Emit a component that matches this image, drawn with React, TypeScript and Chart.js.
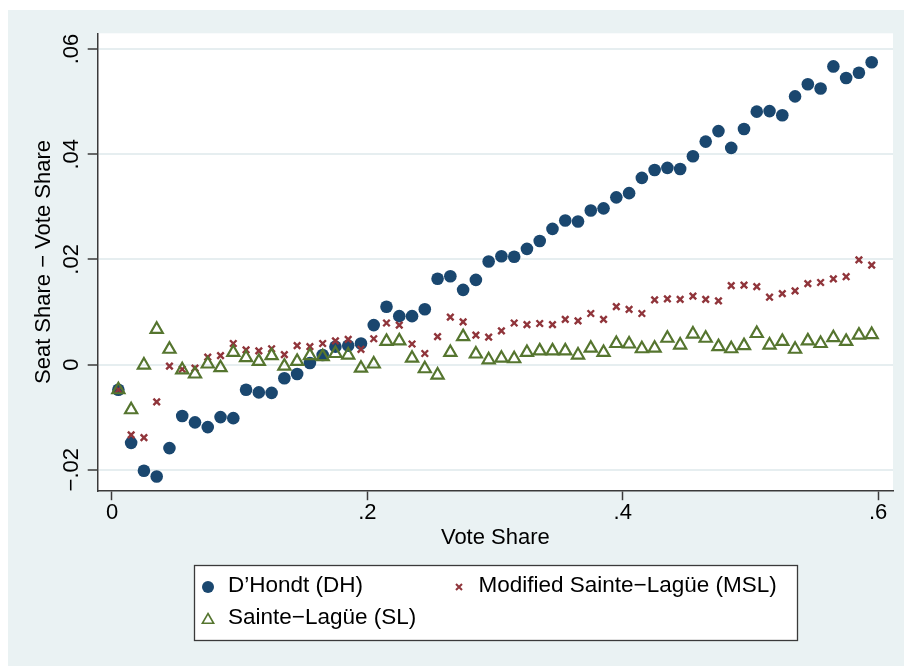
import React, { useEffect, useRef } from "react";
import { Chart, registerables } from "chart.js";

Chart.register(...registerables);

// ---------- data ----------
const voteShare = [
  0.005, 0.015, 0.025, 0.035, 0.045, 0.055, 0.065, 0.075, 0.085, 0.095,
  0.105, 0.115, 0.125, 0.135, 0.145, 0.155, 0.165, 0.175, 0.185, 0.195,
  0.205, 0.215, 0.225, 0.235, 0.245, 0.255, 0.265, 0.275, 0.285, 0.295,
  0.305, 0.315, 0.325, 0.335, 0.345, 0.355, 0.365, 0.375, 0.385, 0.395,
  0.405, 0.415, 0.425, 0.435, 0.445, 0.455, 0.465, 0.475, 0.485, 0.495,
  0.505, 0.515, 0.525, 0.535, 0.545, 0.555, 0.565, 0.575, 0.585, 0.595,
];

const dhValues = [
  -0.0048, -0.0149, -0.0202, -0.0213, -0.0159, -0.0098, -0.011, -0.0119, -0.01, -0.0102,
  -0.0048, -0.0053, -0.0054, -0.0026, -0.0018, 0.0003, 0.0018, 0.0034, 0.0036, 0.004,
  0.0075, 0.011, 0.0092, 0.0092, 0.0105, 0.0163, 0.0168, 0.0142, 0.0161, 0.0196,
  0.0206, 0.0205, 0.022, 0.0235, 0.0258, 0.0274, 0.0272, 0.0293, 0.0297, 0.0318,
  0.0326, 0.0355, 0.037, 0.0374, 0.0372, 0.0396, 0.0424, 0.0444, 0.0412, 0.0448,
  0.0481, 0.0482, 0.0474, 0.051, 0.0533, 0.0525, 0.0567, 0.0545, 0.0555, 0.0575,
];

const mslValues = [
  -0.0048, -0.0134, -0.0139, -0.0071, -0.0003, -0.0009, -0.0007, 0.0014, 0.0017, 0.004,
  0.0028, 0.0026, 0.003, 0.0019, 0.0036, 0.0034, 0.004, 0.0045, 0.0048, 0.0029,
  0.0049, 0.0079, 0.0075, 0.0039, 0.0021, 0.0053, 0.009, 0.0081, 0.0056, 0.0052,
  0.0064, 0.0079, 0.0076, 0.0078, 0.0076, 0.0086, 0.0083, 0.0097, 0.0086, 0.011,
  0.0105, 0.0097, 0.0123, 0.0125, 0.0124, 0.013, 0.0124, 0.0121, 0.015, 0.0151,
  0.0148, 0.0128, 0.0135, 0.014, 0.0154, 0.0156, 0.0163, 0.0167, 0.0199, 0.0189,
];

const slValues = [
  -0.0048, -0.0086, -0.0001, 0.0067, 0.0029, -0.001, -0.0018, 0.0001, -0.0006, 0.0023,
  0.0013, 0.0006, 0.0017, -0.0003, 0.0006, 0.0017, 0.0015, 0.0021, 0.0018, -0.0007,
  0.0001, 0.0044, 0.0045, 0.0012, -0.0008, -0.002, 0.0023, 0.0053, 0.002, 0.0009,
  0.0012, 0.0011, 0.0023, 0.0026, 0.0026, 0.0026, 0.0018, 0.0031, 0.0023, 0.004,
  0.0039, 0.003, 0.0031, 0.005, 0.0037, 0.0058, 0.005, 0.0034, 0.003, 0.0036,
  0.0059, 0.0037, 0.0044, 0.0029, 0.0045, 0.004, 0.0051, 0.0044, 0.0056, 0.0057,
];

const seriesLabels = ["D\u2019Hondt (DH)", "Modified Sainte\u2212Lag\u00fce (MSL)", "Sainte\u2212Lag\u00fce (SL)"];

const xTickValues = [0, 0.2, 0.4, 0.6];
const xTickLabels = ["0", ".2", ".4", ".6"];
const yTickValues = [-0.02, 0, 0.02, 0.04, 0.06];
const yTickLabels = ["\u2212.02", "0", ".02", ".04", ".06"];

const xTitle = "Vote Share";
const yTitle = "Seat Share \u2212 Vote Share";

// ---------- styles ----------
const FONT = "'Liberation Sans', Arial, Helvetica, sans-serif";
const BG = "#EAF2F3";
const GRID = "#E6EEF0";
const AXIS = "#3a3a3a";
const NAVY = "#1A476F";
const MAROON = "#90353B";
const GREEN = "#55752F";

const plotBg = {
  id: "plotBg",
  beforeDraw(chart: any) {
    const { ctx, chartArea } = chart;
    ctx.save();
    ctx.fillStyle = "#ffffff";
    ctx.fillRect(chartArea.left, chartArea.top, chartArea.right - chartArea.left, chartArea.bottom - chartArea.top);
    ctx.restore();
  },
};

const legendPlugin = {
  id: "stataLegend",
  afterDraw(chart: any) {
    const ctx = chart.ctx as CanvasRenderingContext2D;
    ctx.save();
    const bx = 186, by = 555, bw = 603, bh = 75;
    ctx.fillStyle = "#ffffff";
    ctx.fillRect(bx, by, bw, bh);
    ctx.strokeStyle = AXIS;
    ctx.lineWidth = 1.3;
    ctx.strokeRect(bx + 0.5, by + 0.5, bw, bh);

    const slots = [
      { mx: 200, my: 576, tx: 220 },
      { mx: 451, my: 576, tx: 470.5 },
      { mx: 200, my: 607.5, tx: 220 },
    ];
    const ds = chart.data.datasets;
    ds.forEach((d: any, i: number) => {
      const s = slots[i];
      if (d.pointStyle === "circle") {
        ctx.beginPath();
        ctx.fillStyle = d.backgroundColor;
        ctx.arc(s.mx, s.my + 1, 6, 0, Math.PI * 2);
        ctx.fill();
      } else if (d.pointStyle === "crossRot") {
        ctx.beginPath();
        ctx.strokeStyle = d.borderColor;
        ctx.lineWidth = 2;
        const r = 3;
        const cy = s.my + 1;
        ctx.moveTo(s.mx - r, cy - r);
        ctx.lineTo(s.mx + r, cy + r);
        ctx.moveTo(s.mx - r, cy + r);
        ctx.lineTo(s.mx + r, cy - r);
        ctx.stroke();
      } else if (d.pointStyle === "triangle") {
        ctx.beginPath();
        ctx.strokeStyle = d.borderColor;
        ctx.lineWidth = 1.6;
        const r = 6.5;
        const cy = s.my + 2.5;
        for (let k = 0; k < 3; k++) {
          const a = (k * 2 * Math.PI) / 3;
          const px = s.mx + Math.sin(a) * r;
          const py = cy - Math.cos(a) * r;
          if (k === 0) ctx.moveTo(px, py);
          else ctx.lineTo(px, py);
        }
        ctx.closePath();
        ctx.stroke();
      }
      ctx.fillStyle = "#000";
      ctx.font = `22.5px ${FONT}`;
      ctx.textAlign = "left";
      ctx.textBaseline = "middle";
      ctx.fillText(d.label, s.tx, s.my);
    });
    ctx.restore();
  },
};

export default function App() {
  const ref = useRef<HTMLCanvasElement>(null);

  useEffect(() => {
    const canvas = ref.current!;
    const toPts = (ys: number[]) => voteShare.map((x, i) => ({ x, y: ys[i] }));
    const chart = new Chart(canvas, {
      type: "scatter",
      data: {
        datasets: [
          {
            label: seriesLabels[0],
            data: toPts(dhValues),
            pointStyle: "circle",
            pointRadius: 6.3,
            backgroundColor: NAVY,
            borderColor: NAVY,
            borderWidth: 0,
            order: 3,
          },
          {
            label: seriesLabels[1],
            data: toPts(mslValues),
            pointStyle: "crossRot",
            pointRadius: 4.6,
            backgroundColor: MAROON,
            borderColor: MAROON,
            borderWidth: 2.4,
            order: 2,
          },
          {
            label: seriesLabels[2],
            data: toPts(slValues),
            pointStyle: "triangle",
            pointRadius: 7,
            backgroundColor: "rgba(0,0,0,0)",
            borderColor: GREEN,
            borderWidth: 2.2,
            order: 1,
          },
        ] as any,
      },
      options: {
        responsive: false,
        animation: false,
        devicePixelRatio: 1,
        events: [],
        layout: { padding: { top: 23.3, right: 11, bottom: 0, left: 0 } },
        plugins: { legend: { display: false }, tooltip: { enabled: false } },
        scales: {
          x: {
            type: "linear",
            min: -0.0112,
            max: 0.6117,
            afterBuildTicks: (s: any) => {
              s.ticks = xTickValues.map((v) => ({ value: v }));
            },
            afterFit: (s: any) => {
              s.height = 175.3;
            },
            grid: {
              drawOnChartArea: false,
              drawTicks: true,
              tickLength: 9.5,
              tickColor: AXIS,
              tickWidth: 1.5,
            },
            border: { display: true, color: AXIS, width: 1.5 },
            ticks: {
              autoSkip: false,
              minRotation: 0,
              maxRotation: 0,
              padding: 0,
              color: "#000",
              font: { family: FONT, size: 22 },
              callback: (_v: any, i: number) => xTickLabels[i],
            },
            title: {
              display: true,
              text: xTitle,
              color: "#000",
              font: { family: FONT, size: 22 },
              padding: { top: 0, bottom: 115.3 },
            },
          },
          y: {
            type: "linear",
            min: -0.024,
            max: 0.063,
            afterBuildTicks: (s: any) => {
              s.ticks = yTickValues.map((v) => ({ value: v }));
            },
            afterFit: (s: any) => {
              s.width = 89.7;
            },
            grid: {
              drawOnChartArea: true,
              drawTicks: true,
              color: GRID,
              lineWidth: 2,
              tickLength: 10,
              tickColor: AXIS,
              tickWidth: 1.5,
            },
            border: { display: true, color: AXIS, width: 1.5 },
            ticks: {
              autoSkip: false,
              minRotation: 90,
              maxRotation: 90,
              crossAlign: "center",
              padding: -6,
              color: "#000",
              font: { family: FONT, size: 22 },
              callback: (_v: any, i: number) => yTickLabels[i],
            },
            title: {
              display: true,
              text: yTitle,
              color: "#000",
              font: { family: FONT, size: 22 },
              padding: { top: 22.5, bottom: 0 },
            },
          },
        },
      } as any,
      plugins: [plotBg, legendPlugin],
    });
    return () => chart.destroy();
  }, []);

  return (
    <div
      style={{
        position: "absolute",
        left: 8,
        top: 10,
        width: 896,
        height: 656,
        background: BG,
      }}
    >
      <canvas ref={ref} width={896} height={656} style={{ display: "block" }} />
    </div>
  );
}
